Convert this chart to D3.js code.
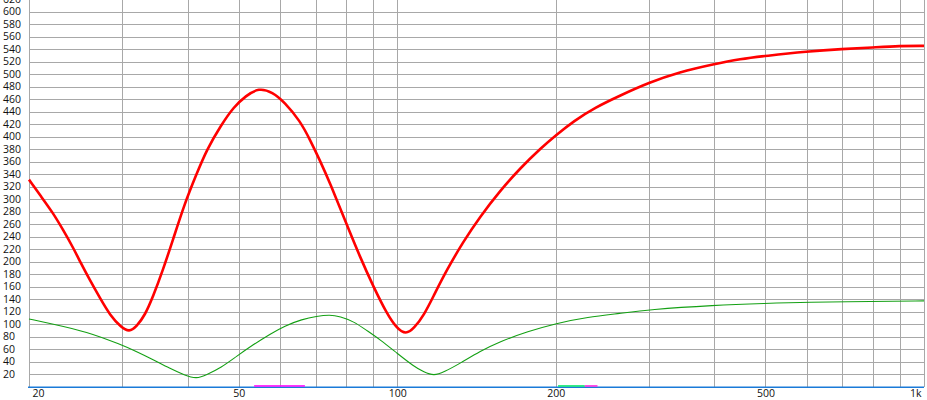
<!DOCTYPE html>
<html>
<head>
<meta charset="utf-8">
<script src="https://cdn.jsdelivr.net/npm/d3@7/dist/d3.min.js"></script>
<style>
  html, body { margin: 0; padding: 0; background: #fff; }
  svg { display: block; }
  text { font-family: "Open Sans", "Noto Sans", sans-serif; font-size: 10.5px; fill: #111; }
</style>
</head>
<body>
<svg id="chart" width="927" height="400"></svg>
<script>
// ---- data ----
const redFreq = [20, 21, 22.2, 23.2, 24.3, 25.1, 26.1, 27.3, 28.5, 29.9, 31, 32, 33.2, 34.4, 35.9, 37.5, 39.5, 41.6, 43.5, 46.3, 48.9, 51.6, 54.6, 58, 61.1, 65.4, 68.3, 71.4, 74.6, 79.6, 85, 90.1, 95.5, 99.8, 103.9, 107.6, 112.4, 117.4, 124.1, 133.3, 143.4, 156.7, 171.5, 187.7, 200, 216.6, 237, 265.6, 300, 343, 400, 448, 500, 600, 700, 800, 900, 1000];
const redValues = [331, 306, 278, 251, 221, 197, 170, 141, 114, 95, 87, 96, 114, 144, 186, 234, 293, 340, 379, 418, 447, 465, 478, 471, 455, 425, 395, 361, 325, 266, 207, 160, 117, 93, 83, 93, 114, 146, 186, 231, 271, 313, 350, 382, 402, 425, 446, 466, 486, 503, 516, 524, 529, 536, 540, 542.5, 545, 545];

const greenFreq = [20, 22.2, 25.7, 29.9, 32, 34.4, 37, 39.5, 41.6, 43.5, 46.3, 49.5, 53.3, 57.4, 61.1, 66, 70.3, 74.5, 77.9, 82.7, 87.4, 92.8, 100, 107.6, 112.4, 117.4, 122.6, 131.6, 143.4, 156.7, 177, 200, 230, 265, 300, 400, 500, 600, 800, 1000];
const greenValues = [108, 100, 88, 67, 56, 43, 29, 18, 12, 19, 30, 48, 67, 84, 97, 107.5, 112.5, 115, 112, 104, 90, 75, 53, 32, 23, 17, 23, 37, 56, 72, 88, 101, 111, 117, 123, 130, 133, 135, 136, 137];

const xTickValues = [20, 50, 100, 200, 500, 1000];
const xTickLabels = ["20", "50", "100", "200", "500", "1k"];
const xGridValues = [20, 30, 40, 50, 60, 70, 80, 90, 100, 200, 300, 400, 500, 600, 700, 800, 900, 1000];
const yTickValues = d3.range(20, 621, 20);

const bandStart = [53.5, 202, 227];
const bandEnd = [66.8, 227, 240];
const bandColor = ["#ff00ff", "#00e868", "#ff20e0"];

// ---- layout ----
const plotLeft = 29, plotRight = 924, plotBottom = 386.5, plotTop = -1;
const svg = d3.select("#chart");

const x = d3.scaleLog().domain([20, 1000]).range([plotLeft, plotRight]);
const y = d3.scaleLinear().domain([0, 620]).range([plotBottom, plotTop]);

// grid (horizontal)
const gy = svg.append("g")
  .attr("transform", `translate(${plotLeft},0)`)
  .call(d3.axisLeft(y).tickValues(yTickValues).tickSize(-(plotRight - plotLeft)).tickFormat(""));
gy.select(".domain").remove();
gy.selectAll(".tick line").attr("stroke", "#a8a8a8").attr("shape-rendering", "crispEdges");

// grid (vertical)
const gx = svg.append("g")
  .attr("transform", `translate(0,${plotBottom})`)
  .call(d3.axisBottom(x).tickValues(xGridValues).tickSize(-(plotBottom + 2)).tickFormat(""));
gx.select(".domain").remove();
gx.selectAll(".tick line").attr("stroke", "#a8a8a8").attr("shape-rendering", "crispEdges");

// bottom blue axis line
svg.append("line")
  .attr("x1", plotLeft - 1).attr("x2", plotRight)
  .attr("y1", 387.2).attr("y2", 387.2)
  .attr("stroke", "#1a7ad8").attr("stroke-width", 1.5);

// colored bands on axis
svg.append("g").selectAll("rect")
  .data(bandStart.map((s, i) => ({ s, e: bandEnd[i], c: bandColor[i] })))
  .join("rect")
  .attr("x", d => x(d.s)).attr("width", d => x(d.e) - x(d.s))
  .attr("y", 385.2).attr("height", 1.5)
  .attr("fill", d => d.c);

// curves
const line = d3.line()
  .x(d => x(d[0]))
  .y(d => y(d[1]))
  .curve(d3.curveBasis);

svg.append("path")
  .datum(greenFreq.map((f, i) => [f, greenValues[i]]))
  .attr("d", line)
  .attr("fill", "none")
  .attr("stroke", "#14a014")
  .attr("stroke-width", 1.1);

svg.append("path")
  .datum(redFreq.map((f, i) => [f, redValues[i]]))
  .attr("d", line)
  .attr("fill", "none")
  .attr("stroke", "#ff0000")
  .attr("stroke-width", 2.6);

// y labels (left aligned)
const yl = svg.append("g")
  .attr("transform", "translate(3,0)")
  .call(d3.axisRight(y).tickValues(yTickValues).tickSize(0).tickPadding(0));
yl.select(".domain").remove();
yl.selectAll("text").attr("fill", "#111");

// x labels
const xl = svg.append("g")
  .attr("transform", `translate(0,${plotBottom})`)
  .call(d3.axisBottom(x).tickValues(xTickValues).tickSize(0).tickPadding(3)
    .tickFormat((d, i) => xTickLabels[i]));
xl.select(".domain").remove();
xl.selectAll("text").attr("fill", "#111")
  .each(function (d, i) {
    if (i === 0) d3.select(this).attr("text-anchor", "start").attr("dx", 3);
    if (i === xTickValues.length - 1) d3.select(this).attr("text-anchor", "end").attr("dx", -3);
  });
</script>
</body>
</html>
